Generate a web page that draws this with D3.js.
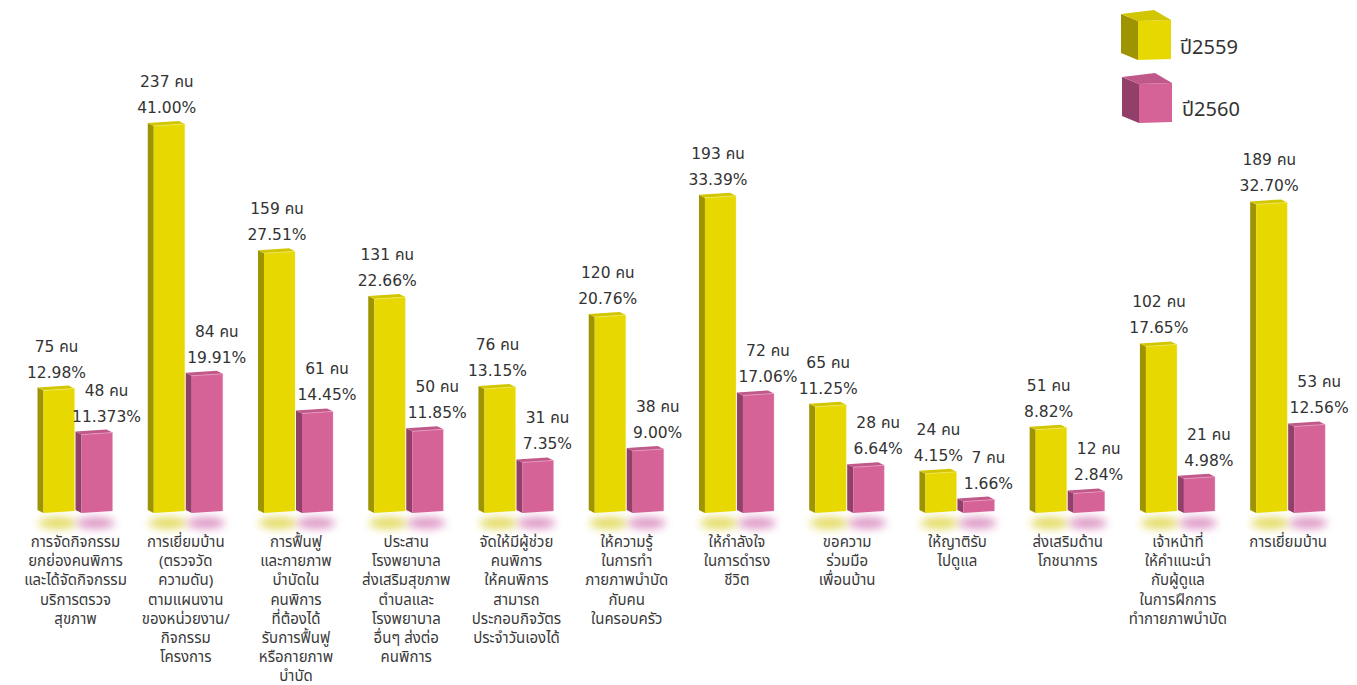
<!DOCTYPE html>
<html>
<head>
<meta charset="utf-8">
<script src="https://cdn.jsdelivr.net/npm/d3@7"></script>
<style>
  html, body { margin: 0; padding: 0; background: #ffffff; }
  svg { display: block; font-family: "Noto Sans Thai", Tahoma, "DejaVu Sans", "Noto Sans", sans-serif; }
  .val { font-family: "DejaVu Sans", "Noto Sans Thai", sans-serif; }
</style>
</head>
<body>
<svg id="chart" width="1357" height="685"></svg>
<script>
// ---- data ----
const categories = [
  ["การจัดกิจกรรม","ยกย่องคนพิการ","และได้จัดกิจกรรม","บริการตรวจ","สุขภาพ"],
  ["การเยี่ยมบ้าน","(ตรวจวัด","ความดัน)","ตามแผนงาน","ของหน่วยงาน/","กิจกรรม","โครงการ"],
  ["การฟื้นฟู","และกายภาพ","บำบัดใน","คนพิการ","ที่ต้องได้","รับการฟื้นฟู","หรือกายภาพ","บำบัด"],
  ["ประสาน","โรงพยาบาล","ส่งเสริมสุขภาพ","ตำบลและ","โรงพยาบาล","อื่นๆ ส่งต่อ","คนพิการ"],
  ["จัดให้มีผู้ช่วย","คนพิการ","ให้คนพิการ","สามารถ","ประกอบกิจวัตร","ประจำวันเองได้"],
  ["ให้ความรู้","ในการทำ","ภายภาพบำบัด","กับคน","ในครอบครัว"],
  ["ให้กำลังใจ","ในการดำรง","ชีวิต"],
  ["ขอความ","ร่วมมือ","เพื่อนบ้าน"],
  ["ให้ญาติรับ","ไปดูแล"],
  ["ส่งเสริมด้าน","โภชนาการ"],
  ["เจ้าหน้าที่","ให้คำแนะนำ","กับผู้ดูแล","ในการฝึกการ","ทำกายภาพบำบัด"],
  ["การเยี่ยมบ้าน"]
];
const seriesNames = ["ปี2559", "ปี2560"];
const counts2559 = [75, 237, 159, 131, 76, 120, 193, 65, 24, 51, 102, 189];
const counts2560 = [48, 84, 61, 50, 31, 38, 72, 28, 7, 12, 21, 53];
const pct2559 = ["12.98%", "41.00%", "27.51%", "22.66%", "13.15%", "20.76%", "33.39%", "11.25%", "4.15%", "8.82%", "17.65%", "32.70%"];
const pct2560 = ["11.373%", "19.91%", "14.45%", "11.85%", "7.35%", "9.00%", "17.06%", "6.64%", "1.66%", "2.84%", "4.98%", "12.56%"];
const unit = "คน";

// ---- styles ----
const palettes = [
  { front: "#e6d800", side: "#9e9300", top: "#d2c600", topEdge: "#f0e860", glow: "#d8cc20" },
  { front: "#d56397", side: "#92406a", top: "#c0588a", topEdge: "#e89cc0", glow: "#d070b0" }
];

const svg = d3.select("#chart");
const defs = svg.append("defs");
const blur = defs.append("filter").attr("id", "blur").attr("x", "-50%").attr("y", "-200%").attr("width", "200%").attr("height", "500%");
blur.append("feGaussianBlur").attr("stdDeviation", 4);

const catKeys = categories.map((c, i) => "c" + i);
const x0 = d3.scaleBand().domain(catKeys).range([20.4, 20.4 + 12 * 110.24]);
const x1 = d3.scaleBand().domain(seriesNames).range([-38, 38]);
const y = d3.scaleLinear().domain([0, 237]).range([511, 124]);

const depth = { dx: -6, dy: -3 };
const slope = 2;

const rows = [];
categories.forEach((c, i) => {
  [counts2559, counts2560].forEach((arr, s) => {
    rows.push({ i, s, key: catKeys[i], series: seriesNames[s], value: arr[i],
      pct: (s === 0 ? pct2559 : pct2560)[i] });
  });
});

// glow/reflection under bars
const gGlow = svg.append("g");
rows.forEach(d => {
  const cx = x0(d.key) + x0.bandwidth() / 2;
  const bx = cx + x1(d.series);
  gGlow.append("ellipse")
    .attr("cx", bx + x1.bandwidth() / 2 + 1)
    .attr("cy", y(0) + 12)
    .attr("rx", x1.bandwidth() / 2)
    .attr("ry", 6)
    .attr("fill", palettes[d.s].glow)
    .attr("opacity", 0.7)
    .attr("filter", "url(#blur)");
});

// bars
const gBars = svg.append("g");
rows.forEach(d => {
  const p = palettes[d.s];
  const cx = x0(d.key) + x0.bandwidth() / 2;
  const sl = cx + x1(d.series);
  const fl = sl - depth.dx;
  const fr = sl + x1.bandwidth() - 1;
  const t = y(d.value);
  const b = y(0);
  const g = gBars.append("g");
  g.append("polygon").attr("fill", p.side).attr("points", [
    [fl + depth.dx, t + slope + depth.dy], [fl, t + slope], [fl, b + slope], [fl + depth.dx, b + slope + depth.dy]
  ].map(q => q.join(",")).join(" "));
  g.append("polygon").attr("fill", p.front).attr("points", [
    [fl, t + slope], [fr, t], [fr, b], [fl, b + slope]
  ].map(q => q.join(",")).join(" "));
  g.append("polygon").attr("fill", p.top).attr("points", [
    [fl + depth.dx, t + slope + depth.dy], [fl, t + slope], [fr, t], [fr + depth.dx, t + depth.dy]
  ].map(q => q.join(",")).join(" "));
  g.append("line").attr("x1", fl).attr("y1", t + slope).attr("x2", fr).attr("y2", t)
    .attr("stroke", p.topEdge).attr("stroke-width", 0.8);
  g.append("line").attr("x1", fr).attr("y1", t).attr("x2", fr).attr("y2", b)
    .attr("stroke", p.topEdge).attr("stroke-width", 0.6).attr("opacity", 0.6);
});

// value labels
const gLab = svg.append("g").attr("class", "val").attr("fill", "#333333").attr("font-size", 15.5).attr("text-anchor", "middle");
rows.forEach(d => {
  const cx = x0(d.key) + x0.bandwidth() / 2;
  const bx = cx + x1(d.series) + x1.bandwidth() / 2 + (d.s === 1 ? 12 : 0);
  const t = y(d.value);
  gLab.append("text").attr("x", bx).attr("y", t - 37).text(d.value + " " + unit);
  gLab.append("text").attr("x", bx).attr("y", t - 11).text(d.pct);
});

// category labels
const gCat = svg.append("g").attr("fill", "#3a3a3a").attr("font-size", 15).attr("text-anchor", "middle");
categories.forEach((lines, i) => {
  const cx = x0(catKeys[i]) + x0.bandwidth() / 2;
  lines.forEach((ln, k) => {
    gCat.append("text").attr("x", cx).attr("y", 547 + k * 19.2).text(ln);
  });
});

// legend
const legend = svg.append("g");
const legendPos = [{ x: 1138, y: 21, tx: 1180, ty: 54 }, { x: 1139, y: 84, tx: 1182, ty: 116 }];
seriesNames.forEach((name, s) => {
  const p = palettes[s];
  const L = legendPos[s];
  const w = 33, h = 39, dx = -17, dy = -7;
  legend.append("polygon").attr("fill", p.side).attr("points", [
    [L.x + dx, L.y + dy], [L.x, L.y], [L.x, L.y + h], [L.x + dx, L.y + h + dy]
  ].map(q => q.join(",")).join(" "));
  legend.append("polygon").attr("fill", p.front).attr("points", [
    [L.x, L.y], [L.x + w, L.y - 1], [L.x + w, L.y + h - 1], [L.x, L.y + h]
  ].map(q => q.join(",")).join(" "));
  legend.append("polygon").attr("fill", p.top).attr("points", [
    [L.x + dx, L.y + dy], [L.x, L.y], [L.x + w, L.y - 1], [L.x + w + dx, L.y - 1 + dy - 3]
  ].map(q => q.join(",")).join(" "));
  legend.append("text").attr("x", L.tx).attr("y", L.ty).attr("font-size", 20)
    .attr("fill", "#333333").text(name);
});
</script>
</body>
</html>
